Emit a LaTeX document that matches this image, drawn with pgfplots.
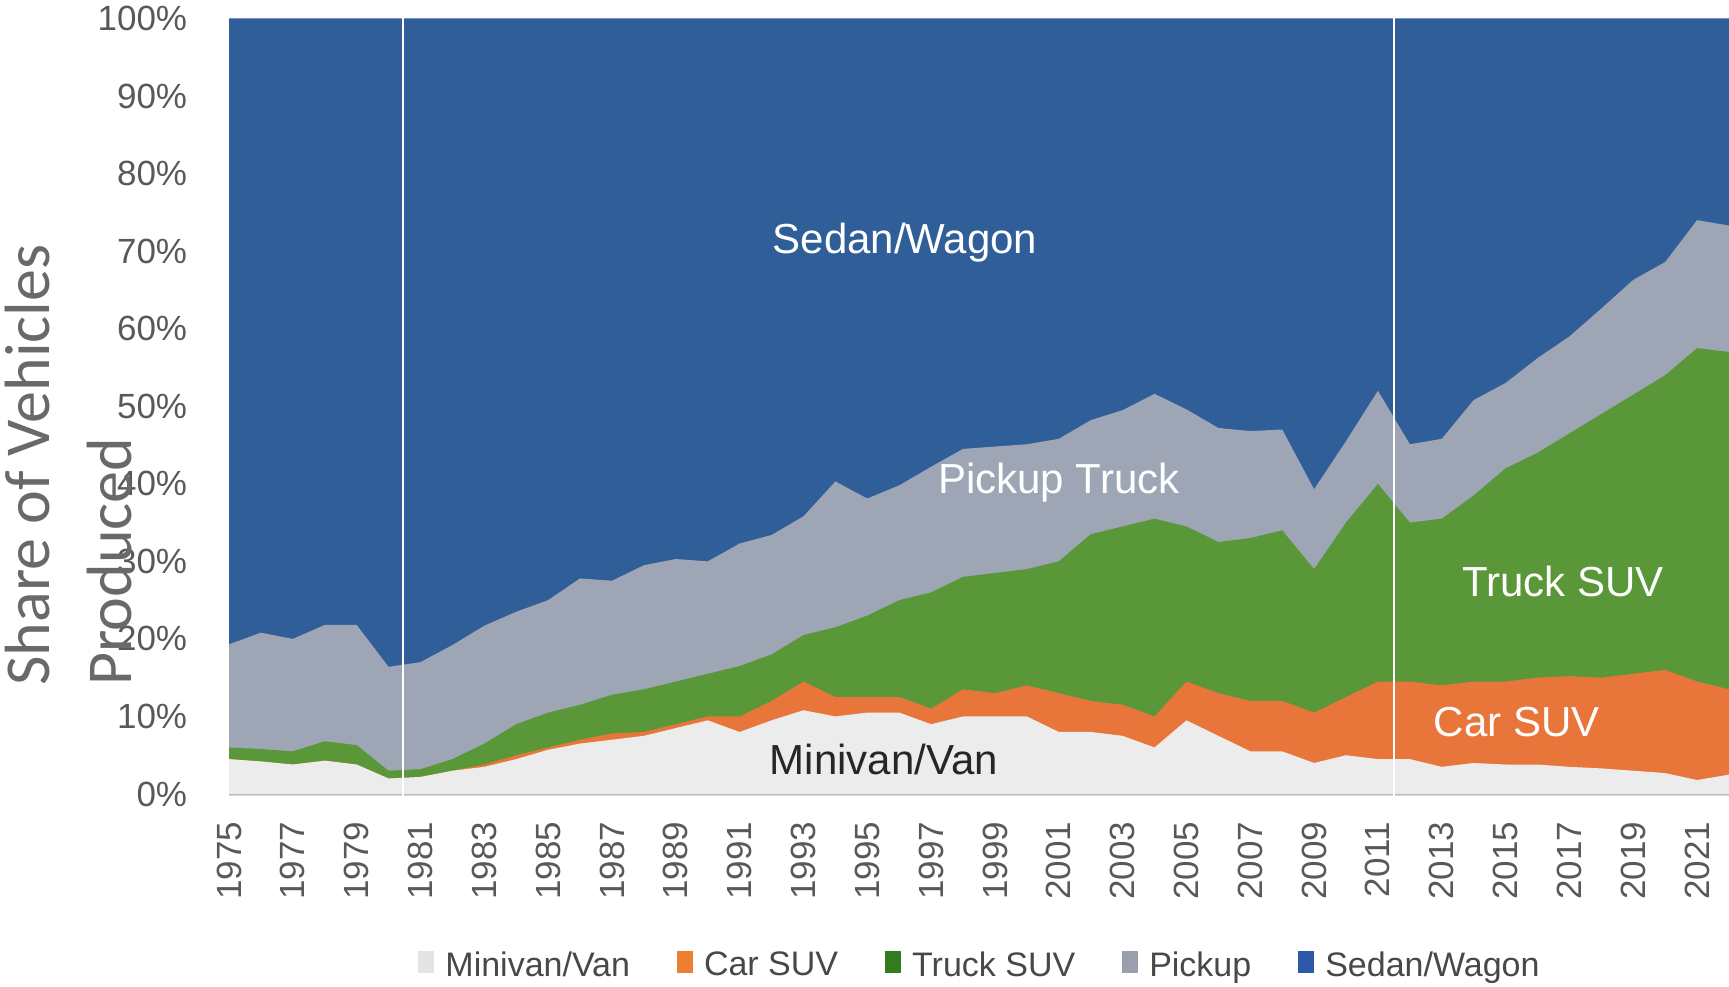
\documentclass[border=0pt]{standalone}
\usepackage{fontspec}
\setmainfont{Liberation Sans}
\newfontfamily\carlito{Carlito}
\usepackage{pgfplots}
\usepackage{pgfplotstable}
\pgfplotsset{compat=1.18}

\definecolor{sedanblue}{RGB}{48,94,152}
\definecolor{pickgray}{RGB}{158,166,182}
\definecolor{trkgreen}{RGB}{89,151,57}
\definecolor{carorange}{RGB}{232,118,58}
\definecolor{mvgray}{RGB}{236,236,236}
\definecolor{axisgray}{RGB}{217,217,217}
\definecolor{tickgray}{RGB}{89,89,89}
\definecolor{labelgray}{RGB}{105,105,105}
\definecolor{legtext}{RGB}{72,72,72}
\definecolor{legmv}{RGB}{228,228,228}
\definecolor{legcar}{RGB}{237,125,49}
\definecolor{legtrk}{RGB}{50,125,32}
\definecolor{legpick}{RGB}{155,158,172}
\definecolor{legsedan}{RGB}{46,88,168}

% cumulative tops of each band (percent)
\pgfplotstableread{
year mv car truck pick sedan
1975 4.5 4.5 6.0 19.3 100
1976 4.2 4.2 5.8 20.8 100
1977 3.8 3.8 5.5 20.0 100
1978 4.3 4.3 6.8 21.8 100
1979 3.8 3.8 6.3 21.8 100
1980 2.0 2.0 3.0 16.4 100
1981 2.2 2.2 3.2 17.0 100
1982 3.0 3.0 4.5 19.2 100
1983 3.5 3.8 6.5 21.7 100
1984 4.5 5.0 9.0 23.5 100
1985 5.7 6.0 10.5 25.0 100
1986 6.5 7.0 11.5 27.8 100
1987 7.0 7.8 12.8 27.5 100
1988 7.5 8.0 13.5 29.5 100
1989 8.5 9.0 14.5 30.3 100
1990 9.5 10.0 15.5 30.0 100
1991 8.0 10.0 16.5 32.3 100
1992 9.5 12.0 18.0 33.4 100
1993 10.8 14.5 20.5 35.8 100
1994 10.0 12.5 21.5 40.3 100
1995 10.5 12.5 23.0 38.1 100
1996 10.5 12.5 25.0 39.8 100
1997 9.0 11.0 26.0 42.2 100
1998 10.0 13.5 28.0 44.5 100
1999 10.0 13.0 28.5 44.8 100
2000 10.0 14.0 29.0 45.1 100
2001 8.0 13.0 30.0 45.8 100
2002 8.0 12.0 33.5 48.2 100
2003 7.5 11.5 34.5 49.5 100
2004 6.0 10.0 35.5 51.6 100
2005 9.5 14.5 34.5 49.6 100
2006 7.5 13.0 32.5 47.2 100
2007 5.5 12.0 33.0 46.8 100
2008 5.5 12.0 34.0 47.0 100
2009 4.0 10.5 29.0 39.3 100
2010 5.0 12.5 35.0 45.5 100
2011 4.5 14.5 40.0 52.0 100
2012 4.5 14.5 35.0 45.1 100
2013 3.5 14.0 35.5 45.8 100
2014 4.0 14.5 38.5 50.8 100
2015 3.8 14.5 42.0 53.0 100
2016 3.8 15.0 44.0 56.2 100
2017 3.5 15.2 46.5 59.0 100
2018 3.3 15.0 49.0 62.6 100
2019 3.0 15.5 51.5 66.3 100
2020 2.7 16.0 54.0 68.6 100
2021 1.8 14.5 57.5 74.0 100
2022 2.5 13.5 57.0 73.3 100
}\shares

\begin{document}
\begin{tikzpicture}
\begin{axis}[
  at={(0,0)}, anchor=south west,
  scale only axis, width=750bp, height=387.75bp,
  xmin=1975, xmax=2022, ymin=0, ymax=100,
  axis lines*=left,
  y axis line style={draw=none},
  x axis line style={draw=axisgray, line width=2bp},
  tick style={draw=none}, major tick length=0pt,
  xtick={1975,1977,...,2021},
  ytick={0,10,...,100},
  /pgf/number format/assume math mode=true,
  xticklabel={\pgfmathprintnumber[1000 sep={}]{\tick}},
  yticklabel={\pgfmathprintnumber{\tick}\%},
  tick label style={font=\fontsize{17.5bp}{20bp}\selectfont, text=tickgray, inner sep=0pt},
  xticklabel style={rotate=90, anchor=east},
  yticklabel style={anchor=east},
  xticklabel shift=13.75bp, yticklabel shift=20.75bp,
  clip=false,
  legend image code/.code={\fill[#1] (0bp,-3.5bp) rectangle (8bp,7.5bp);},
  legend columns=5,
  legend style={draw=none, fill=none, at={(0.5,-0.2205)}, anchor=center,
    font=\fontsize{17bp}{20bp}\selectfont, text=legtext,
    nodes={inner sep=0pt},
    /tikz/every odd column/.append style={column sep=5.5bp},
    /tikz/every even column/.append style={column sep=23.5bp}},
]
\addplot[draw=none, fill=sedanblue, forget plot] table[x=year, y=sedan] {\shares} \closedcycle;
\addplot[draw=none, fill=pickgray, forget plot] table[x=year, y=pick] {\shares} \closedcycle;
\addplot[draw=none, fill=trkgreen, forget plot] table[x=year, y=truck] {\shares} \closedcycle;
\addplot[draw=none, fill=carorange, forget plot] table[x=year, y=car] {\shares} \closedcycle;
\addplot[draw=none, fill=mvgray, forget plot] table[x=year, y=mv] {\shares} \closedcycle;
\addplot[white, line width=1bp, forget plot] coordinates {(1980.45,-0.8) (1980.45,100)};
\addplot[white, line width=1bp, forget plot] coordinates {(2011.5,-0.8) (2011.5,100)};

\addlegendimage{fill=legmv, draw=none}\addlegendentry{Minivan/Van}
\addlegendimage{fill=legcar, draw=none}\addlegendentry{Car SUV}
\addlegendimage{fill=legtrk, draw=none}\addlegendentry{Truck SUV}
\addlegendimage{fill=legpick, draw=none}\addlegendentry{Pickup}
\addlegendimage{fill=legsedan, draw=none}\addlegendentry{Sedan/Wagon}

\node[text=white, font=\fontsize{21bp}{24bp}\selectfont] at (axis cs:1996.18,71.1) {Sedan/Wagon};
\node[text=white, font=\fontsize{21bp}{24bp}\selectfont] at (axis cs:2001.0,40.1) {Pickup Truck};
\node[text=white, font=\fontsize{21bp}{24bp}\selectfont] at (axis cs:2016.8,27.45) {Truck SUV};
\node[text=white, font=\fontsize{21bp}{24bp}\selectfont] at (axis cs:2015.35,9.25) {Car SUV};
\node[text={rgb,255:red,38;green,38;blue,38}, font=\fontsize{21bp}{24bp}\selectfont] at (axis cs:1995.52,4.41) {Minivan/Van};
\end{axis}
\node[rotate=90, anchor=west, align=left, inner sep=0pt, text=labelgray,
      font=\carlito\fontsize{32bp}{41bp}\selectfont] at (-80.1bp,54bp) {Share of Vehicles\\Produced};
\pgfresetboundingbox
\path (-114.5bp,-96.5bp) rectangle (750bp,397bp);
\end{tikzpicture}
\end{document}
